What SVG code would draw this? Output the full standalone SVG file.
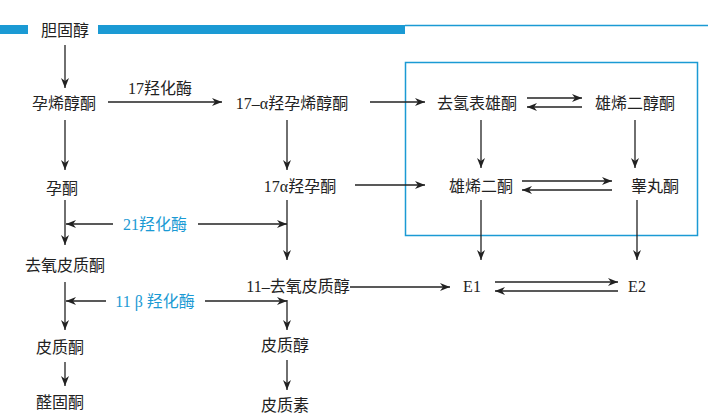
<svg xmlns="http://www.w3.org/2000/svg" width="708" height="417" viewBox="0 0 708 417">
<style>
text{font-family:"Liberation Serif","Noto Sans CJK SC",serif;font-size:16px;fill:#222;text-anchor:middle;dominant-baseline:central}
.b{fill:#1b9ad4}
.c line{stroke:#222;stroke-width:1.3;marker-end:url(#a)}
</style>
<defs><marker id="a" viewBox="0 0 10 8" refX="10" refY="4" markerWidth="10" markerHeight="8" markerUnits="userSpaceOnUse" orient="auto"><path d="M0,0L10,4L0,8L3,4Z" fill="#222"/></marker></defs>
<rect width="708" height="417" fill="#fff"/>
<rect x="0" y="25" width="28" height="9" fill="#1b9ad4"/>
<rect x="98" y="25" width="307" height="9" fill="#1b9ad4"/>
<line x1="405" y1="25.5" x2="708" y2="25.5" stroke="#1b9ad4" stroke-width="1.5"/>
<rect x="405.5" y="62.5" width="292" height="173" fill="none" stroke="#1b9ad4" stroke-width="1.5"/>
<g id="n1"><text x="65" y="30">胆固醇</text></g>
<g id="n2"><text x="64" y="103">孕烯醇酮</text></g>
<g id="n3"><text x="292" y="103">17–α羟孕烯醇酮</text></g>
<g id="n4"><text x="477" y="103">去氢表雄酮</text></g>
<g id="n5"><text x="635" y="103">雄烯二醇酮</text></g>
<g id="n6"><text x="62" y="188">孕酮</text></g>
<g id="n7"><text x="300" y="186">17α羟孕酮</text></g>
<g id="n8"><text x="481" y="186">雄烯二酮</text></g>
<g id="n9"><text x="655" y="186">睾丸酮</text></g>
<g id="n10"><text x="65" y="265">去氧皮质酮</text></g>
<g id="n11"><text x="298" y="286">11–去氧皮质醇</text></g>
<g id="n12"><text x="472" y="286">E1</text></g>
<g id="n13"><text x="637" y="286">E2</text></g>
<g id="n14"><text x="60" y="347">皮质酮</text></g>
<g id="n15"><text x="285" y="345">皮质醇</text></g>
<g id="n16"><text x="60" y="402">醛固酮</text></g>
<g id="n17"><text x="285" y="405">皮质素</text></g>
<text x="160" y="88">17羟化酶</text>
<text class="b" x="155" y="224">21羟化酶</text>
<text class="b" x="155" y="301">11 β 羟化酶</text>
<g class="c" id="connectors">
<line x1="65" y1="45" x2="65" y2="88"/>
<line x1="108" y1="102" x2="222" y2="102"/>
<line x1="370" y1="102" x2="425" y2="102"/>
<line x1="527" y1="98" x2="582" y2="98"/>
<line x1="582" y1="107" x2="527" y2="107"/>
<line x1="65" y1="120" x2="65" y2="170"/>
<line x1="287" y1="120" x2="287" y2="170"/>
<line x1="481" y1="120" x2="481" y2="168"/>
<line x1="635" y1="120" x2="635" y2="168"/>
<line x1="355" y1="185" x2="425" y2="185"/>
<line x1="522" y1="181" x2="612" y2="181"/>
<line x1="612" y1="190" x2="522" y2="190"/>
<line x1="65" y1="200" x2="65" y2="245"/>
<line x1="287" y1="200" x2="287" y2="260"/>
<line x1="113" y1="224" x2="66" y2="224"/>
<line x1="198" y1="224" x2="287" y2="224"/>
<line x1="350" y1="287" x2="450" y2="287"/>
<line x1="495" y1="282" x2="618" y2="282"/>
<line x1="618" y1="291" x2="495" y2="291"/>
<line x1="481" y1="200" x2="481" y2="260"/>
<line x1="637" y1="200" x2="637" y2="260"/>
<line x1="65" y1="282" x2="65" y2="330"/>
<line x1="106" y1="301" x2="66" y2="301"/>
<line x1="205" y1="301" x2="287" y2="301"/>
<line x1="287" y1="300" x2="287" y2="330"/>
<line x1="65" y1="362" x2="65" y2="386"/>
<line x1="287" y1="360" x2="287" y2="390"/>
</g>
</svg>
